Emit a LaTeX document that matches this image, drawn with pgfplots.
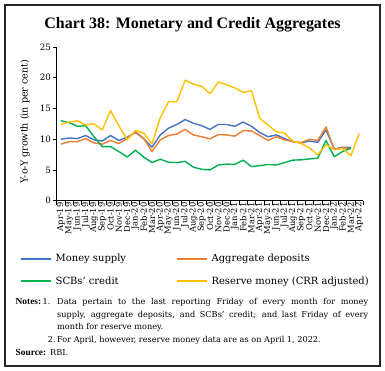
\documentclass[border=0pt]{standalone}
\usepackage{fontspec}
\setmainfont{DejaVu Serif}
\newfontfamily\titlefont{Liberation Serif}
\usepackage{pgfplots}
\pgfplotsset{compat=1.18}
\usepackage{pgfplotstable}
\definecolor{cMS}{HTML}{4472C4}
\definecolor{cAD}{HTML}{ED7D31}
\definecolor{cSC}{HTML}{00B050}
\definecolor{cRM}{HTML}{FFC000}
\newcommand\nf{\fontsize{8.2}{12.5}\selectfont}
\newcommand\nb{\titlefont\bfseries\fontsize{9.4}{12.5}\selectfont}

\pgfplotstableread{
idx ms ad scb rm
0 10.0 9.2 13.0 12.4
1 10.2 9.6 12.7 12.8
2 10.1 9.6 12.1 13.0
3 10.6 10.1 12.2 12.3
4 9.9 9.4 10.4 12.5
5 9.7 9.2 8.8 11.5
6 10.6 9.8 8.8 14.65
7 9.8 9.3 8.0 12.2
8 10.3 10.1 7.1 9.9
9 11.1 11.2 8.2 11.4
10 10.1 10.1 7.1 11.0
11 8.7 8.0 6.2 9.25
12 10.7 9.9 6.75 13.5
13 11.8 10.6 6.25 16.1
14 12.4 10.85 6.2 16.1
15 13.2 11.6 6.4 19.6
16 12.6 10.7 5.45 18.95
17 12.2 10.4 5.1 18.6
18 11.6 10.05 5.0 17.4
19 12.4 10.75 5.8 19.3
20 12.4 10.7 5.95 18.85
21 12.1 10.5 5.9 18.35
22 12.8 11.4 6.6 17.6
23 12.1 11.35 5.55 17.9
24 11.1 10.6 5.7 13.4
25 10.4 9.8 5.9 12.3
26 10.7 10.4 5.8 11.2
27 10.1 9.9 6.2 11.0
28 9.6 9.6 6.6 9.7
29 9.4 9.45 6.65 9.3
30 9.7 10.0 6.8 8.6
31 9.5 9.8 6.9 7.45
32 11.5 12.0 9.8 9.1
33 8.4 8.3 7.15 8.3
34 8.7 8.6 8.0 8.5
35 8.7 8.5 8.55 7.3
36 nan nan nan 10.9
}\datatable

\begin{document}
\begin{tikzpicture}
\useasboundingbox (0,0) rectangle (385bp,371bp);
\draw[line width=1.1bp, black!85] (5bp,5bp) rectangle (380bp,366bp);
\node[anchor=base, inner sep=0, font=\titlefont\bfseries\fontsize{16}{19}\selectfont] at (192.5bp,342.7bp) {Chart 38: Monetary and Credit Aggregates};
\begin{axis}[
  at={(56.7bp,170.3bp)}, anchor=south west,
  scale only axis, width=306.6bp, height=153.7bp,
  xmin=-0.5, xmax=36.5, ymin=0, ymax=25,
  axis x line*=bottom, axis y line*=left,
  axis line style={line width=0.8bp, black},
  tick align=outside, major tick length=4bp,
  every tick/.style={black, line width=0.7bp},
  ytick={0,5,...,25},
  /pgf/number format/assume math mode=true,
  yticklabel style={font=\fontsize{8.8}{10}\selectfont, inner sep=1.5bp},
  xtick={-0.5,0.5,...,36.5}, xticklabels={},
  extra x ticks={0,...,36},
  extra x tick labels={Apr-19,May-19,Jun-19,Jul-19,Aug-19,Sep-19,Oct-19,Nov-19,Dec-19,Jan-20,Feb-20,Mar-20,Apr-20,May-20,Jun-20,Jul-20,Aug-20,Sep-20,Oct-20,Nov-20,Dec-20,Jan-21,Feb-21,Mar-21,Apr-21,May-21,Jun-21,Jul-21,Aug-21,Sep-21,Oct-21,Nov-21,Dec-21,Jan-22,Feb-22,Mar-22,Apr-22},
  extra x tick style={major tick length=0pt},
  xticklabel style={rotate=90, anchor=east, font=\fontsize{8.4}{9}\selectfont, inner sep=1.5bp},
  ylabel={Y-o-Y growth (in per cent)},
  ylabel style={at={(axis description cs:-0.1034,0.515)}, anchor=center, font=\fontsize{9.6}{11}\selectfont},
  legend columns=2, legend cell align=left,
  legend image code/.code={\draw[#1, line width=2bp] (0bp,0bp) -- (30bp,0bp);},
  legend style={draw=none, fill=none, at={(axis description cs:-0.1197,-0.334)}, anchor=north west,
    font=\fontsize{10}{12}\selectfont, inner sep=0pt, row sep=9.5bp,
    /tikz/every odd column/.append style={column sep=1.5bp},
    /tikz/every even column/.append style={column sep=48bp}},
  every axis plot/.append style={line width=1.4bp, line join=round},
]
\addplot[cMS, no markers] table[x=idx, y=ms] {\datatable};
\addlegendentry{Money supply}
\addplot[cAD, no markers] table[x=idx, y=ad] {\datatable};
\addlegendentry{Aggregate deposits}
\addplot[cSC, no markers] table[x=idx, y=scb] {\datatable};
\addlegendentry{SCBs' credit}
\addplot[cRM, no markers] table[x=idx, y=rm] {\datatable};
\addlegendentry{Reserve money (CRR adjusted)}
\end{axis}
\node[anchor=base west, inner sep=0, font=\nb] at (15.5bp,66bp) {Notes:};
\node[anchor=base west, inner sep=0, font=\nf] at (42.5bp,66bp) {1.};
\node[anchor=base west, inner sep=0, font=\nf] at (57bp,66bp) {\makebox[311bp][s]{Data pertain to the last reporting Friday of every month for money}};
\node[anchor=base west, inner sep=0, font=\nf] at (57bp,53.7bp) {\makebox[311bp][s]{supply, aggregate deposits, and SCBs' credit; and last Friday of every}};
\node[anchor=base west, inner sep=0, font=\nf] at (57bp,41bp) {month for reserve money.};
\node[anchor=base west, inner sep=0, font=\nf] at (47.7bp,28.7bp) {2.};
\node[anchor=base west, inner sep=0, font=\nf] at (57bp,28.7bp) {For April, however, reserve money data are as on April 1, 2022.};
\node[anchor=base west, inner sep=0, font=\nb] at (15.5bp,15.3bp) {Source:};
\node[anchor=base west, inner sep=0, font=\nf] at (50bp,15.3bp) {RBI.};
\end{tikzpicture}
\end{document}
